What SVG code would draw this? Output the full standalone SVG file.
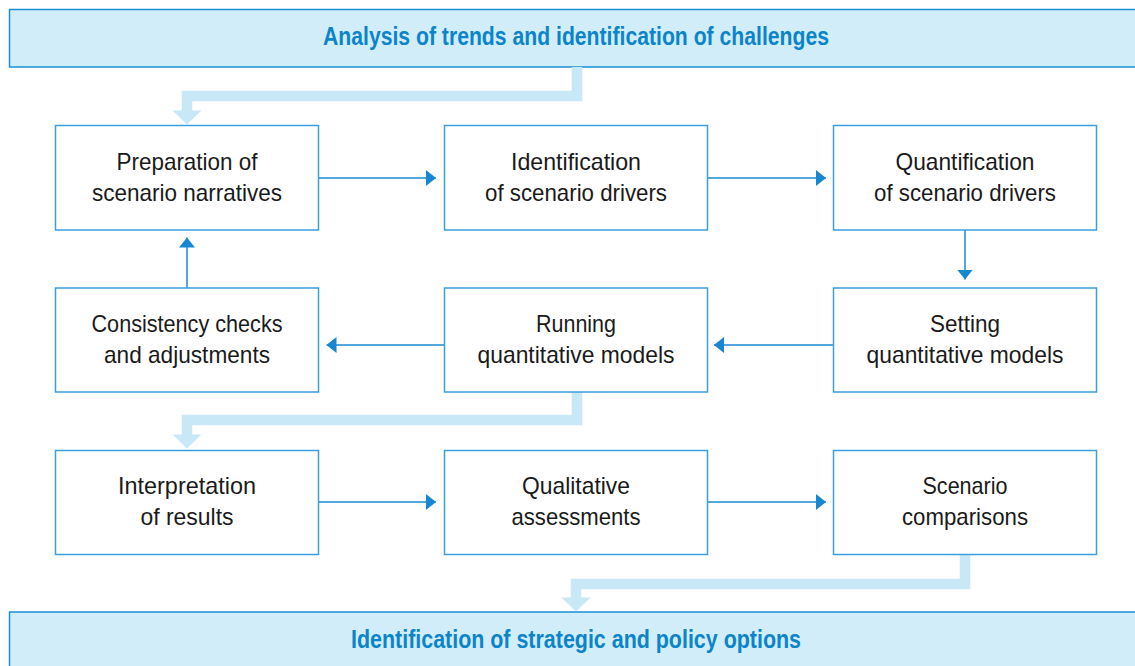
<svg xmlns="http://www.w3.org/2000/svg" width="1135" height="666" viewBox="0 0 1135 666">
<style>
.bar{fill:#d2edfa;stroke:#1b8fd6;stroke-width:1.5}
.box{fill:#ffffff;stroke:#3a9fdc;stroke-width:1.5}
.title{font-family:"Liberation Sans",Arial,sans-serif;font-weight:bold;font-size:25px;fill:#0b84c9;text-anchor:middle}
.lbl{font-family:"Liberation Sans",Arial,sans-serif;font-size:24px;fill:#1a1a1a;text-anchor:middle}
.thin{fill:none;stroke:#1a8ad2;stroke-width:1.5}
.thick{fill:none;stroke:#c8e8f8;stroke-width:10.5}
.thickhead{fill:#c8e8f8}
</style>
<defs>
<marker id="ah" viewBox="0 0 10 16" refX="10" refY="8" markerWidth="10" markerHeight="16" markerUnits="userSpaceOnUse" orient="auto">
<path d="M0,0 L10,8 L0,16 Z" fill="#1787cf"/>
</marker>
</defs>
<rect width="1135" height="666" fill="#ffffff"/>

<g id="top">
<rect class="bar" x="9.5" y="9.5" width="1135" height="57.5"/>
<text class="title" x="576" y="45" textLength="506" lengthAdjust="spacingAndGlyphs">Analysis of trends and identification of challenges</text>
</g>

<g id="bottom">
<rect class="bar" x="9.5" y="612" width="1135" height="60"/>
<text class="title" x="576" y="648" textLength="450" lengthAdjust="spacingAndGlyphs">Identification of strategic and policy options</text>
</g>

<g id="connectors">
<path class="thick" d="M577,67 V96 H187 V111"/>
<polygon class="thickhead" points="172.5,110.5 201.5,110.5 187,124.5"/>
<path class="thick" d="M577,392 V420 H187 V435"/>
<polygon class="thickhead" points="172.5,434.5 201.5,434.5 187,448.5"/>
<path class="thick" d="M965,554.5 V584 H576 V598"/>
<polygon class="thickhead" points="561.5,597.5 590.5,597.5 576,611.5"/>

<line class="thin" x1="318.5" y1="178" x2="436" y2="178" marker-end="url(#ah)"/>
<line class="thin" x1="707" y1="178" x2="826" y2="178" marker-end="url(#ah)"/>
<line class="thin" x1="965" y1="230" x2="965" y2="279.5" marker-end="url(#ah)"/>
<line class="thin" x1="833" y1="345" x2="714" y2="345" marker-end="url(#ah)"/>
<line class="thin" x1="444" y1="345" x2="326.5" y2="345" marker-end="url(#ah)"/>
<line class="thin" x1="187" y1="288" x2="187" y2="237.5" marker-end="url(#ah)"/>
<line class="thin" x1="318.5" y1="502" x2="436" y2="502" marker-end="url(#ah)"/>
<line class="thin" x1="707" y1="502" x2="826" y2="502" marker-end="url(#ah)"/>
</g>

<g id="n1">
<rect class="box" x="55.5" y="125.5" width="263" height="104.5"/>
<text class="lbl" x="187" y="170" textLength="141" lengthAdjust="spacingAndGlyphs">Preparation of</text>
<text class="lbl" x="187" y="201" textLength="190" lengthAdjust="spacingAndGlyphs">scenario narratives</text>
</g>
<g id="n2">
<rect class="box" x="444.5" y="125.5" width="263" height="104.5"/>
<text class="lbl" x="576" y="170" textLength="130" lengthAdjust="spacingAndGlyphs">Identification</text>
<text class="lbl" x="576" y="201" textLength="182" lengthAdjust="spacingAndGlyphs">of scenario drivers</text>
</g>
<g id="n3">
<rect class="box" x="833.5" y="125.5" width="263" height="104.5"/>
<text class="lbl" x="965" y="170" textLength="139" lengthAdjust="spacingAndGlyphs">Quantification</text>
<text class="lbl" x="965" y="201" textLength="182" lengthAdjust="spacingAndGlyphs">of scenario drivers</text>
</g>
<g id="n4">
<rect class="box" x="55.5" y="288" width="263" height="104"/>
<text class="lbl" x="187" y="332" textLength="191" lengthAdjust="spacingAndGlyphs">Consistency checks</text>
<text class="lbl" x="187" y="363" textLength="166" lengthAdjust="spacingAndGlyphs">and adjustments</text>
</g>
<g id="n5">
<rect class="box" x="444.5" y="288" width="263" height="104"/>
<text class="lbl" x="576" y="332" textLength="80" lengthAdjust="spacingAndGlyphs">Running</text>
<text class="lbl" x="576" y="363" textLength="197" lengthAdjust="spacingAndGlyphs">quantitative models</text>
</g>
<g id="n6">
<rect class="box" x="833.5" y="288" width="263" height="104"/>
<text class="lbl" x="965" y="332" textLength="70" lengthAdjust="spacingAndGlyphs">Setting</text>
<text class="lbl" x="965" y="363" textLength="197" lengthAdjust="spacingAndGlyphs">quantitative models</text>
</g>
<g id="n7">
<rect class="box" x="55.5" y="450.5" width="263" height="104"/>
<text class="lbl" x="187" y="494" textLength="138" lengthAdjust="spacingAndGlyphs">Interpretation</text>
<text class="lbl" x="187" y="525" textLength="93" lengthAdjust="spacingAndGlyphs">of results</text>
</g>
<g id="n8">
<rect class="box" x="444.5" y="450.5" width="263" height="104"/>
<text class="lbl" x="576" y="494" textLength="108" lengthAdjust="spacingAndGlyphs">Qualitative</text>
<text class="lbl" x="576" y="525" textLength="129" lengthAdjust="spacingAndGlyphs">assessments</text>
</g>
<g id="n9">
<rect class="box" x="833.5" y="450.5" width="263" height="104"/>
<text class="lbl" x="965" y="494" textLength="85" lengthAdjust="spacingAndGlyphs">Scenario</text>
<text class="lbl" x="965" y="525" textLength="126" lengthAdjust="spacingAndGlyphs">comparisons</text>
</g>
</svg>
